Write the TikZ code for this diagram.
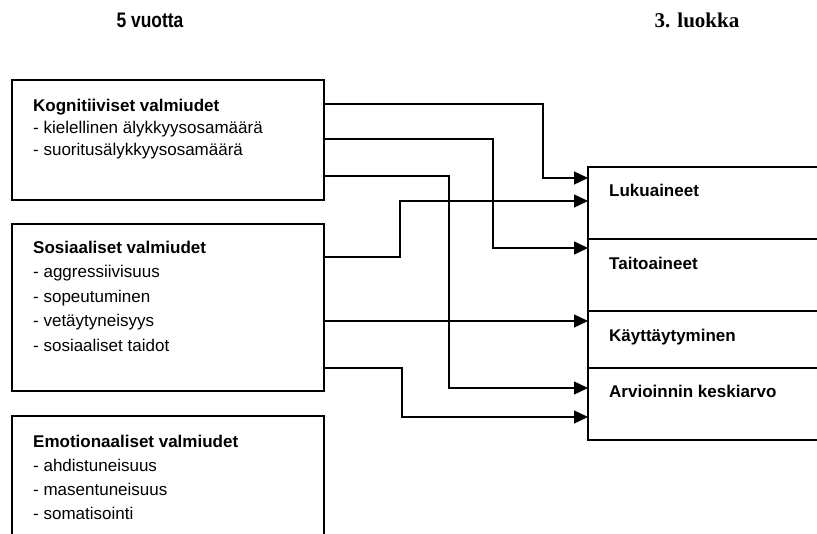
\documentclass[tikz,border=0pt]{standalone}
\usepackage{fontspec}
\setmainfont{Liberation Sans}
\newfontfamily\titleserif{Liberation Serif}
\usetikzlibrary{arrows.meta}

\tikzset{
  box/.style={draw, line width=1.8pt, rectangle, anchor=north west,
    inner sep=0pt, outer sep=0pt},
  boxtext/.style={anchor=north west, inner sep=0pt, align=left,
    font=\fontsize{17}{#1}\selectfont},
  sectext/.style={anchor=base west, inner sep=0pt,
    font=\fontsize{17}{20}\selectfont\bfseries},
  conn/.style={line width=1.4pt, -{Triangle[length=14pt,width=13pt]}},
  link/.style={line width=1.4pt}
}

\begin{document}
\begin{tikzpicture}[x=1pt,y=-1pt]
  \useasboundingbox (0,0) rectangle (817,534);
  \clip (0,0) rectangle (817,534);

  % column headings
  \node[anchor=base, inner sep=0pt] (age) at (150,28)
    {\scalebox{0.83}[1]{\fontsize{21}{21}\selectfont\bfseries 5 vuotta}};
  \node[anchor=base, inner sep=0pt] (grade) at (697,28)
    {\fontsize{21}{21}\selectfont\titleserif\bfseries 3. luokka};

  % readiness boxes (left)
  \node[box, minimum width=312pt, minimum height=120pt] (kog) at (12,80) {};
  \node[box, minimum width=312pt, minimum height=167pt] (sos) at (12,224) {};
  \node[box, minimum width=312pt, minimum height=160pt] (emo) at (12,416) {};

  \node[boxtext=22] (kogtxt) at (33,98.6)
    {\textbf{Kognitiiviset valmiudet}\\- kielellinen älykkyysosamäärä\\- suoritusälykkyysosamäärä};
  \node[boxtext=24.5] (sostxt) at (33,240.8)
    {\textbf{Sosiaaliset valmiudet}\\- aggressiivisuus\\- sopeutuminen\\- vetäytyneisyys\\- sosiaaliset taidot};
  \node[boxtext=24] (emotxt) at (33,434.6)
    {\textbf{Emotionaaliset valmiudet}\\- ahdistuneisuus\\- masentuneisuus\\- somatisointi};

  % outcome sections (right)
  \node[box, minimum width=260pt, minimum height=72pt] (luku) at (588,167) {};
  \node[box, minimum width=260pt, minimum height=72pt] (taito) at (588,239) {};
  \node[box, minimum width=260pt, minimum height=57pt] (kay) at (588,311) {};
  \node[box, minimum width=260pt, minimum height=72pt] (arv) at (588,368) {};

  \node[sectext] (lukutxt) at ([xshift=21pt,yshift=-30pt]luku.north west) {Lukuaineet};
  \node[sectext] (taitotxt) at ([xshift=21pt,yshift=-31pt]taito.north west) {Taitoaineet};
  \node[sectext] (kaytxt) at ([xshift=21pt,yshift=-31pt]kay.north west) {Käyttäytyminen};
  \node[sectext] (arvtxt) at ([xshift=21pt,yshift=-30pt]arv.north west) {Arvioinnin keskiarvo};

  % connectors
  \draw[conn] ([yshift=-24pt]kog.north east) -- ++(219,0) |- ([yshift=-11pt]luku.north west);
  \draw[conn] ([yshift=-59pt]kog.north east) -- ++(169,0) |- ([yshift=-9pt]taito.north west);
  \draw[conn] ([yshift=-96pt]kog.north east) -- ++(125,0) |- ([yshift=-20pt]arv.north west);
  \draw[conn] ([yshift=-33pt]sos.north east) -- ++(76,0) |- ([yshift=-34pt]luku.north west);
  \draw[conn] ([yshift=-97pt]sos.north east) -- ([yshift=-10pt]kay.north west);
  \draw[conn] ([yshift=-144pt]sos.north east) -- ++(78,0) |- ([yshift=-49pt]arv.north west);
\end{tikzpicture}
\end{document}
